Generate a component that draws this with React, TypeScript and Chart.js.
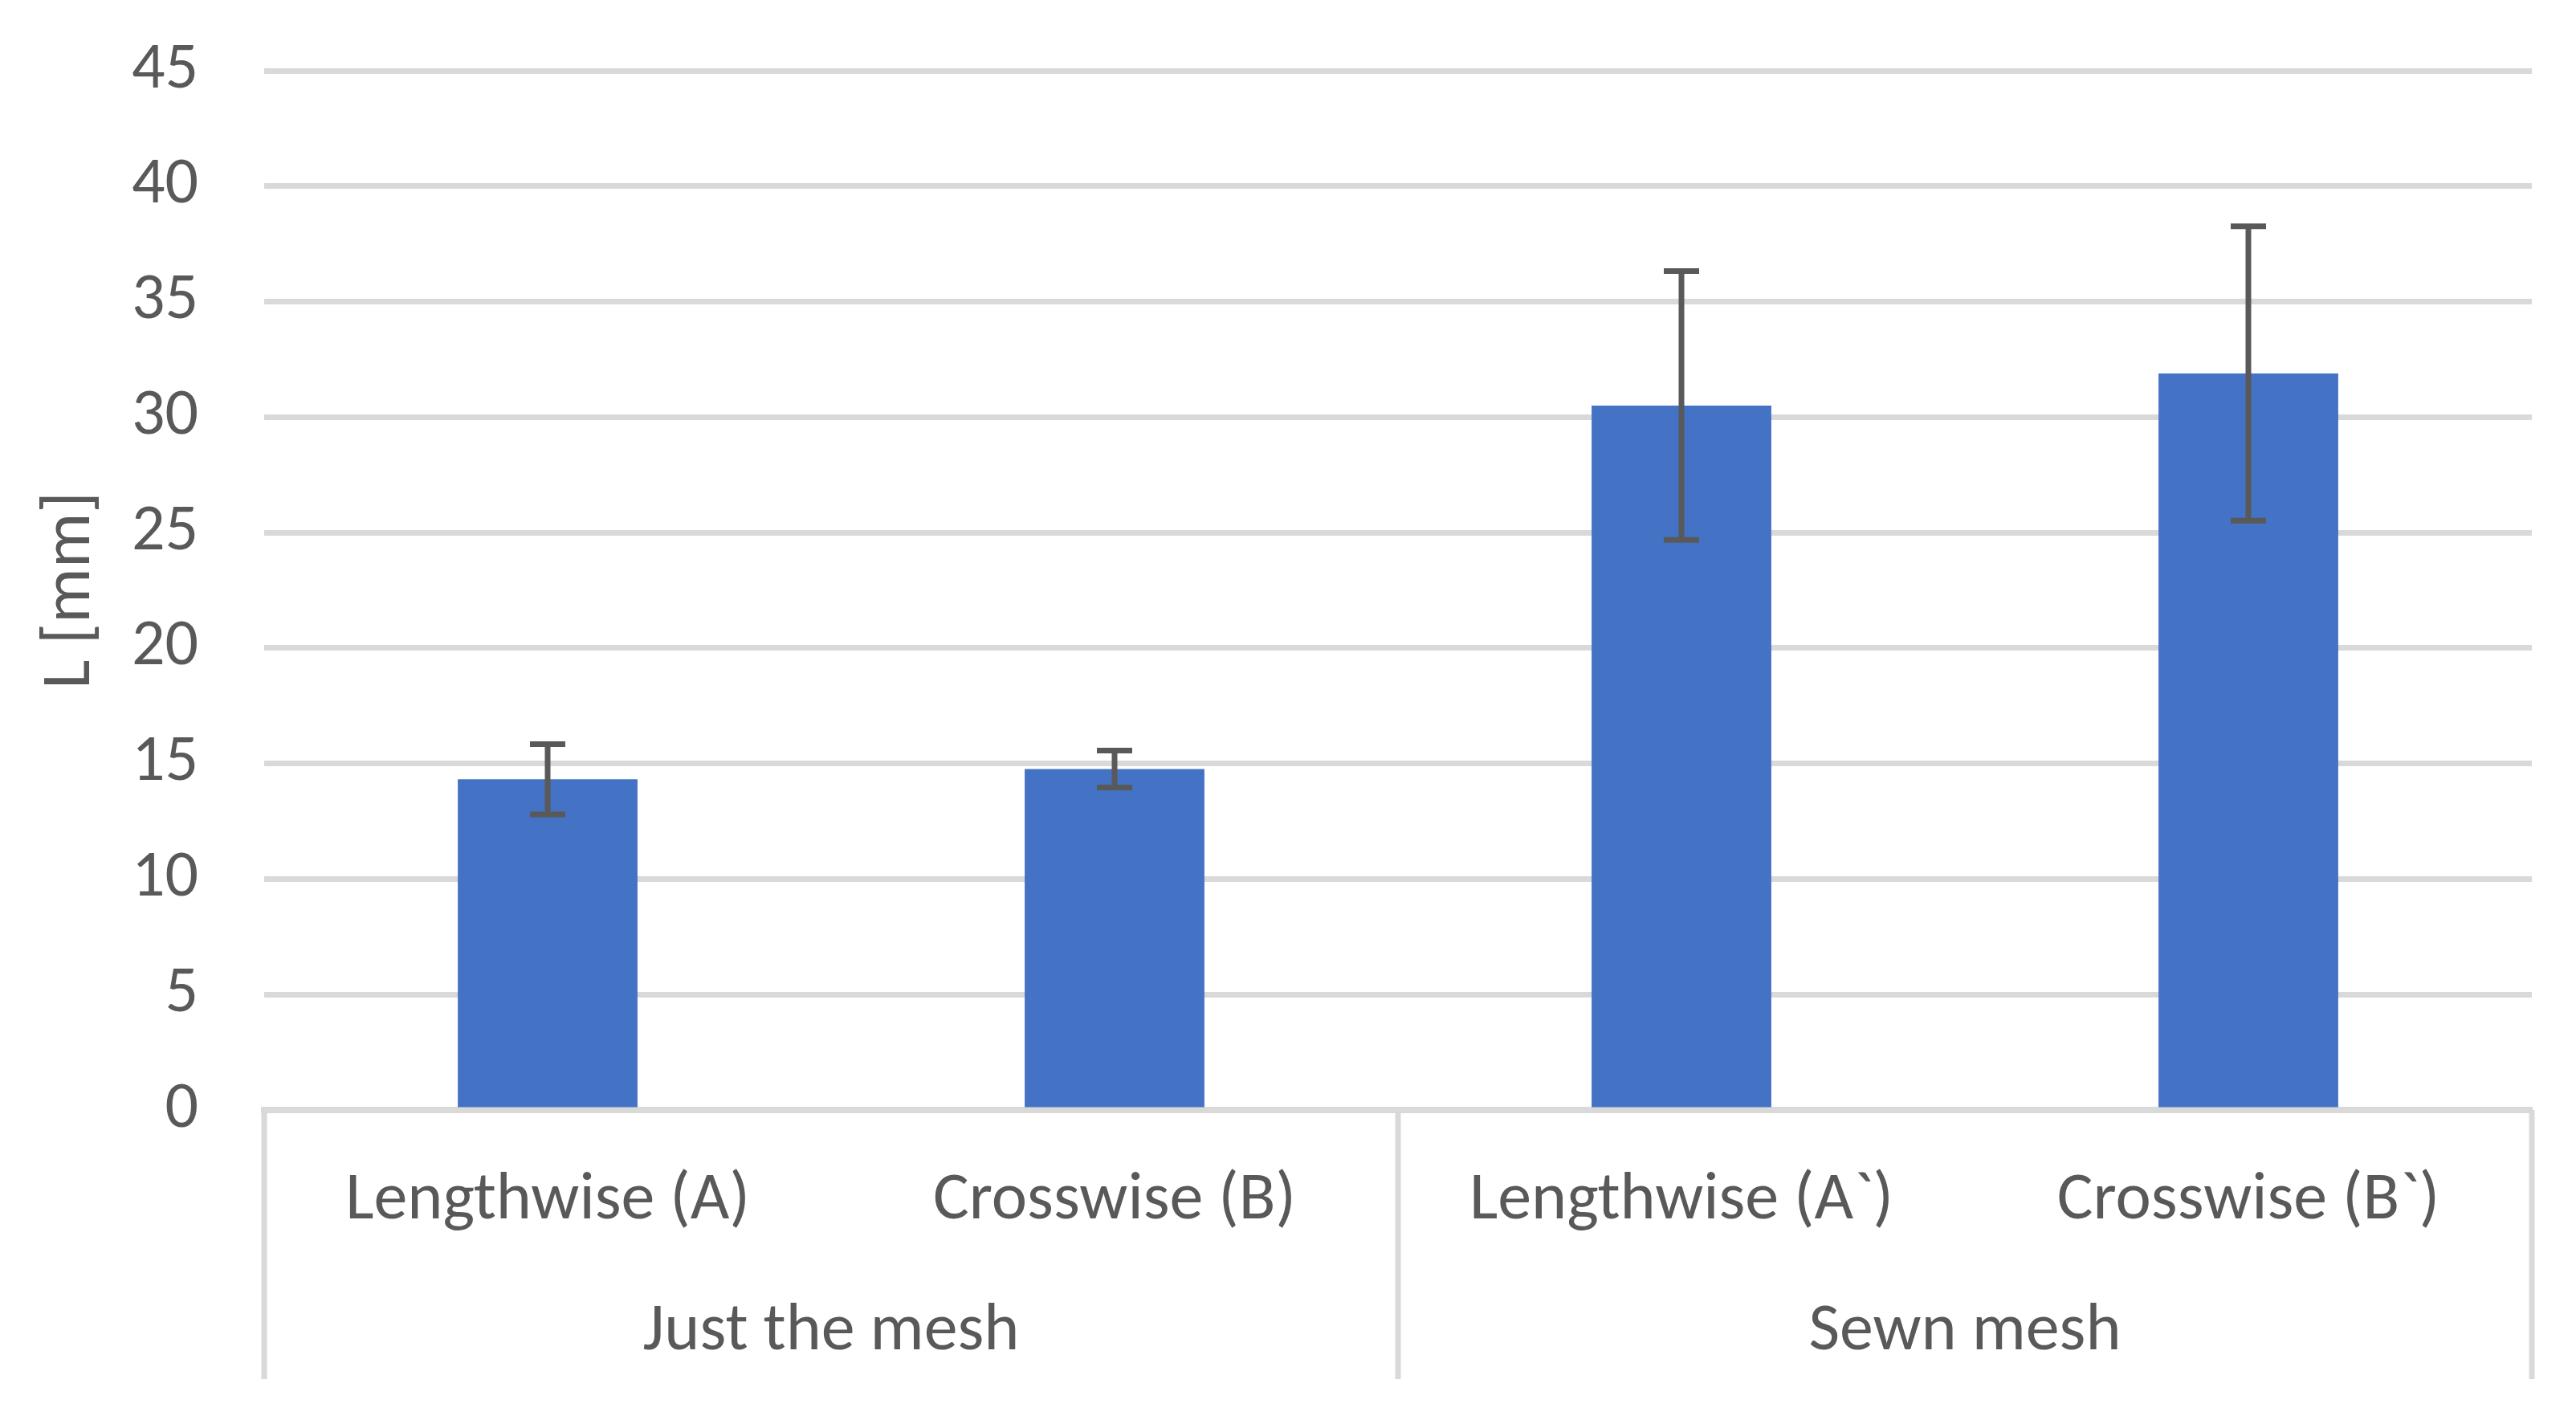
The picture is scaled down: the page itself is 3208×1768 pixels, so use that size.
import React, { useEffect, useRef } from 'react'
import { Chart, registerables } from 'chart.js'

Chart.register(...registerables)

// values
const categories = ['Lengthwise (A)', 'Crosswise (B)', 'Lengthwise (A`)', 'Crosswise (B`)']
const groups = ['Just the mesh', 'Sewn mesh']
const means = [14.32, 14.76, 30.5, 31.89]
const errors = [1.52, 0.8, 5.82, 6.37]

const FONT = 'Carlito, Lato, sans-serif'
const TEXT = '#595959'
const GRID = '#D9D9D9'

const errorBars = {
	id: 'errorBars',
	afterDatasetsDraw(chart: Chart) {
		const { ctx } = chart
		const y = chart.scales.y
		const meta = chart.getDatasetMeta(0)
		ctx.save()
		ctx.strokeStyle = '#595959'
		ctx.lineWidth = 7
		meta.data.forEach((bar: any, i: number) => {
			const top = y.getPixelForValue(means[i] + errors[i])
			const bottom = y.getPixelForValue(means[i] - errors[i])
			const half = 22
			ctx.beginPath()
			ctx.moveTo(bar.x, top)
			ctx.lineTo(bar.x, bottom)
			ctx.moveTo(bar.x - half, top)
			ctx.lineTo(bar.x + half, top)
			ctx.moveTo(bar.x - half, bottom)
			ctx.lineTo(bar.x + half, bottom)
			ctx.stroke()
		})
		ctx.restore()
	},
}

// vertical separators of the two-level category axis
const groupLines = {
	id: 'groupLines',
	afterDraw(chart: Chart) {
		const { ctx, chartArea } = chart
		const x = chart.scales.x
		const x2 = chart.scales.x2
		const mid = (x.getPixelForValue(1) + x.getPixelForValue(2)) / 2
		ctx.save()
		ctx.strokeStyle = GRID
		ctx.lineWidth = 7
		ctx.beginPath()
		;[chartArea.left, mid, chartArea.right].forEach((px) => {
			ctx.moveTo(px, chartArea.bottom)
			ctx.lineTo(px, x2.bottom)
		})
		ctx.stroke()
		ctx.restore()
	},
}

const BarErrorChart: React.FC = () => {
	const chartRef = useRef<HTMLCanvasElement>(null)

	useEffect(() => {
		document.body.style.margin = '0'
		if (!chartRef.current) return
		const context = chartRef.current.getContext('2d')
		if (!context) return

		const chart = new Chart(context, {
			type: 'bar',
			data: {
				labels: categories,
				datasets: [
					{
						label: 'L',
						data: means,
						backgroundColor: '#4472C4',
						barPercentage: 0.317,
						categoryPercentage: 1,
					},
				],
			},
			options: {
				animation: false,
				responsive: true,
				maintainAspectRatio: false,
				devicePixelRatio: 1,
				layout: {
					padding: { top: 88, right: 55, bottom: 51, left: 0 },
				},
				plugins: {
					legend: { display: false },
					tooltip: { enabled: false },
				},
				scales: {
					y: {
						min: 0,
						max: 45,
						ticks: {
							stepSize: 5,
							padding: 10,
							color: TEXT,
							font: { family: FONT, size: 82 },
						},
						grid: {
							color: GRID,
							lineWidth: 7,
							drawTicks: true,
							tickLength: 72,
							tickColor: 'transparent',
						},
						border: { display: false },
						title: {
							display: true,
							text: 'L [mm]',
							color: TEXT,
							font: { family: FONT, size: 86 },
							padding: { top: 38, bottom: 0 },
						},
						afterFit(scale: any) {
							scale.width = 329
						},
					},
					x: {
						ticks: {
							padding: 56,
							color: TEXT,
							font: { family: FONT, size: 84 },
						},
						grid: { display: false },
						border: { display: true, color: GRID, width: 8 },
						afterFit(scale: any) {
							scale.height = 197
						},
					},
					x2: {
						type: 'category',
						labels: groups,
						position: 'bottom',
						offset: true,
						ticks: {
							padding: 22,
							color: TEXT,
							font: { family: FONT, size: 84 },
						},
						grid: { display: false },
						border: { display: false },
						afterFit(scale: any) {
							scale.height = 138
						},
					},
				},
			},
			plugins: [errorBars, groupLines],
		})

		return () => {
			chart.destroy()
		}
	}, [])

	return (
		<div style={{ width: '3208px', height: '1768px', position: 'relative' }}>
			<canvas ref={chartRef} />
		</div>
	)
}

export default function App() {
	return <BarErrorChart />
}
